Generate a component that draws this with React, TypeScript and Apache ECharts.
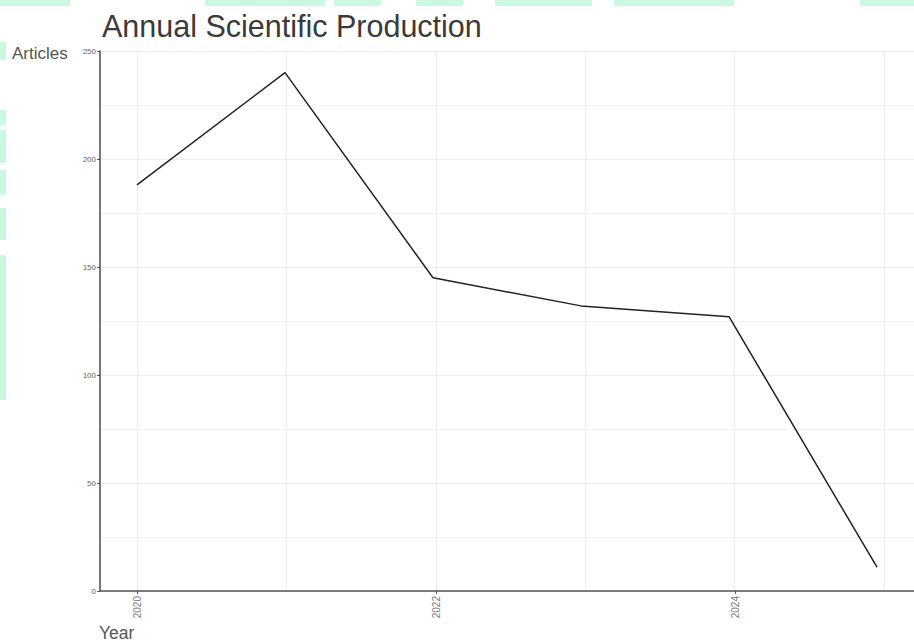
import React, { useEffect, useRef } from "react";
import * as echarts from "echarts";

const years = [2020, 2021, 2022, 2023, 2024, 2025];
const articles = [188, 240, 145, 132, 127, 11];
const yTicks = [0, 50, 100, 150, 200, 250];
const xTickLabels = [2020, 2022, 2024];

const titleText = "Annual Scientific Production";
const yName = "Articles";
const xName = "Year";

const mint = "#cbf8e1";
const topStrips: [number, number][] = [
  [0, 70], [205, 325], [334, 381], [416, 463], [495, 592], [614, 734], [860, 914],
];
const leftStrips: [number, number][] = [
  [42, 60], [110, 125], [130, 163], [170, 195], [208, 240], [255, 400],
];

export default function App() {
  const ref = useRef<HTMLDivElement>(null);
  useEffect(() => {
    if (!ref.current) return;
    const chart = echarts.init(ref.current, undefined, { renderer: "svg" });
    const font = "'Liberation Sans', Arial, sans-serif";
    const top = 51;
    const height = 540;
    const decor: any[] = [
      ...topStrips.map(([a, b]) => ({
        type: "rect", shape: { x: a, y: 0, width: b - a, height: 6 }, style: { fill: mint }, z: -10,
      })),
      ...leftStrips.map(([a, b]) => ({
        type: "rect", shape: { x: 0, y: a, width: 6, height: b - a }, style: { fill: mint }, z: -10,
      })),
      {
        type: "text", left: 12, top: 45,
        style: { text: yName, fontSize: 17, fill: "#555", fontFamily: font },
      },
      {
        type: "text", left: 99, top: 624,
        style: { text: xName, fontSize: 17.5, fill: "#555", fontFamily: font },
      },
    ];
    chart.setOption({
      animation: false,
      backgroundColor: "#fff",
      title: {
        text: titleText,
        left: 97,
        top: 5,
        textStyle: { fontSize: 30.5, fontWeight: "normal", color: "#3a3a3a", fontFamily: font },
      },
      graphic: decor,
      grid: [
        { left: 100, top, width: 821, height, containLabel: false },
        { left: 137, top, width: 747, height, containLabel: false },
        { left: 137, top, width: 598, height, containLabel: false },
      ],
      xAxis: [
        {
          type: "value", gridIndex: 0, min: 2019.75, max: 2025.25,
          axisLine: { show: true, lineStyle: { color: "#555", width: 1.6 } },
          axisTick: { show: false }, axisLabel: { show: false }, splitLine: { show: false },
        },
        {
          type: "value", gridIndex: 1, min: 2020, max: 2025, interval: 1,
          axisLine: { show: false }, axisTick: { show: false }, axisLabel: { show: false },
          splitLine: { show: true, lineStyle: { color: "#ececec", width: 1 } },
        },
        {
          type: "value", gridIndex: 2, min: 2020, max: 2024, interval: 2,
          axisLine: { show: false },
          axisTick: { show: true, length: 3, lineStyle: { color: "#555", width: 1 } },
          axisLabel: {
            show: true, rotate: 90, margin: 5, fontSize: 10, color: "#777", fontFamily: font,
            formatter: (v: number) => (xTickLabels.includes(v) ? String(v) : ""),
          },
          splitLine: { show: false },
        },
      ],
      yAxis: [
        {
          type: "value", gridIndex: 0, min: yTicks[0], max: yTicks[yTicks.length - 1], interval: 50,
          axisLine: { show: true, lineStyle: { color: "#555", width: 1.6 } },
          axisTick: { show: true, length: 3, lineStyle: { color: "#555", width: 1 } },
          axisLabel: { show: true, margin: 4, fontSize: 8, color: "#666", fontFamily: font },
          splitLine: { show: true, lineStyle: { color: "#ececec", width: 1 } },
          minorTick: { show: false, splitNumber: 2 },
          minorSplitLine: { show: true, lineStyle: { color: "#f2f2f2", width: 1 } },
        },
        { type: "value", gridIndex: 1, min: 0, max: 250, show: false },
        { type: "value", gridIndex: 2, min: 0, max: 250, show: false },
      ],
      series: [
        {
          type: "line",
          xAxisIndex: 0,
          yAxisIndex: 0,
          data: years.map((y, i) => [y, articles[i]]),
          showSymbol: false,
          symbol: "none",
          clip: false,
          lineStyle: { color: "#222", width: 1.5 },
          z: 10,
        },
      ],
    });
    return () => chart.dispose();
  }, []);
  return <div ref={ref} style={{ width: 914, height: 642, position: "absolute", left: 0, top: 0 }} />;
}
